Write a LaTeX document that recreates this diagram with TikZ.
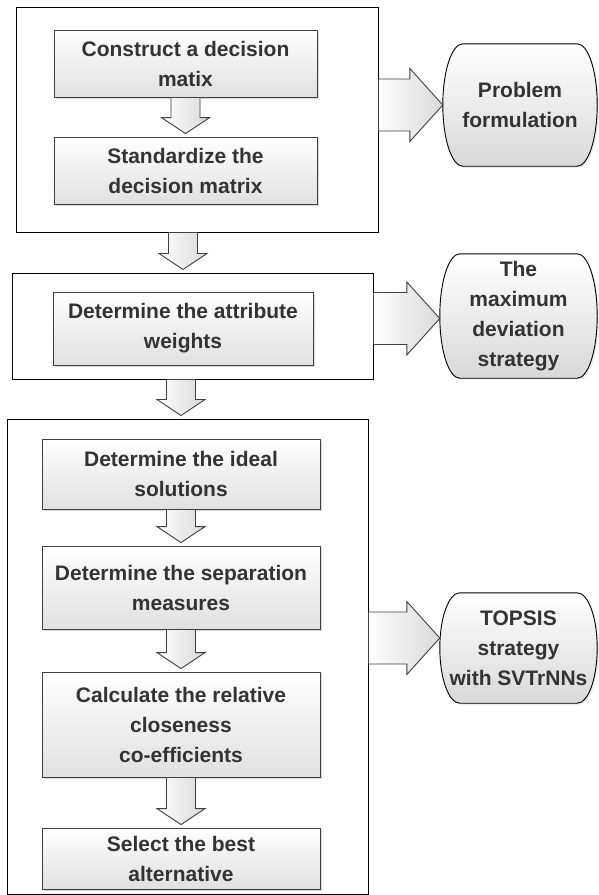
\documentclass[tikz,border=0pt]{standalone}
\usepackage{fontspec}
\setmainfont{Liberation Sans}
\usetikzlibrary{calc,shadows,backgrounds}

% fat down arrow: x taken from #1, from #2 to #3
\newcommand{\blkdown}[3]{%
  \path[blkarrow] let \p1=(#1.center |- #2.south), \p2=(#1.center |- #3.north) in
    (\x1-14.5pt,\y1) -- (\x1+14.5pt,\y1) -- (\x1+14.5pt,\y2+19pt) -- (\x1+24pt,\y2+19pt)
    -- (\x1,\y2+3pt) -- (\x1-24pt,\y2+19pt) -- (\x1-14.5pt,\y2+19pt) -- cycle;}
% fat right arrow: from group #1 to terminal #2, shifted by #3
\newcommand{\blkright}[3]{%
  \path[blkarrow] let \p1=([yshift=#3]#2.west), \p2=(#1.east) in
    (\x2,\y1+26pt) -- (\x1-33pt,\y1+26pt) -- (\x1-33pt,\y1+36.5pt) -- (\x1,\y1)
    -- (\x1-33pt,\y1-36.5pt) -- (\x1-33pt,\y1-26pt) -- (\x2,\y1-26pt) -- cycle;}
% terminator outline round a node
\newcommand{\termdraw}[1]{%
  \path[termline] let \p1=(#1.north west), \p2=(#1.south east), \n1={(\y1-\y2)/2} in
    (\x1+20pt,\y1) -- (\x2-20pt,\y1) arc[start angle=90, end angle=-90, x radius=20pt, y radius={\n1*1pt}]
    -- (\x1+20pt,\y2) arc[start angle=270, end angle=90, x radius=20pt, y radius={\n1*1pt}] -- cycle;}

\begin{document}
\begin{tikzpicture}[x=1pt,y=-1pt,
  font=\fontsize{21}{30}\selectfont\bfseries,
  every node/.style={text=black!80, align=center},
  grp/.style={draw=black, line width=1pt, fill=white, inner sep=0pt},
  procbox/.style={draw=black!75, line width=0.9pt, top color=white, bottom color=black!12, inner sep=0pt,
    drop shadow={shadow xshift=2pt, shadow yshift=-2pt, opacity=.3}},
  term/.style={inner sep=0pt},
  blkarrow/.style={draw=black!75, line width=0.9pt, left color=white, right color=black!15},
  termline/.style={draw=black, line width=0.9pt, top color=white, bottom color=black!15,
    drop shadow={shadow xshift=1.5pt, shadow yshift=-1.5pt, opacity=.2}}]

\useasboundingbox (0,0) rectangle (598,895);
\begin{scope}[on background layer]
  \fill[white] (0,0) rectangle (598,895);
\end{scope}

% groups
\node[grp, minimum width=362pt, minimum height=225pt] (g1) at (197,119.5) {};
\node[grp, minimum width=361pt, minimum height=106pt] (g2) at (192.5,326) {};
\node[grp, minimum width=361pt, minimum height=475pt] (g3) at (187.5,656.5) {};

% steps
\node[procbox, minimum width=263pt, minimum height=67pt] (c1) at (185.5,63.5) {Construct a decision\\matix};
\node[procbox, minimum width=263pt, minimum height=67pt] (c2) at (185.5,170.5) {Standardize the\\decision matrix};
\node[procbox, minimum width=260pt, minimum height=73pt] (c3) at (183,328.5) {Determine the attribute\\weights};
\node[procbox, minimum width=278pt, minimum height=70pt] (c4) at (181,474) {Determine the ideal\\solutions};
\node[procbox, minimum width=278pt, minimum height=83pt] (c5) at (181,587.5) {Determine the separation\\measures};
\node[procbox, minimum width=278pt, minimum height=105pt] (c6) at (181,724.5) {Calculate the relative\\closeness\\co-efficients};
\node[procbox, minimum width=278pt, minimum height=61pt] (c7) at (181,858.5) {Select the best\\alternative};

% strategies
\node[term, minimum width=154pt, minimum height=122pt] (t1) at (520,105) {Problem\\formulation};
\node[term, minimum width=157pt, minimum height=124pt] (t2) at (518.5,316) {The\\maximum\\deviation\\strategy};
\node[term, minimum width=157pt, minimum height=110pt] (t3) at (518.5,648) {TOPSIS\\strategy\\with SVTrNNs};
\begin{scope}[on background layer]
  \termdraw{t1}
  \termdraw{t2}
  \termdraw{t3}
\end{scope}

% arrows
\blkdown{c2}{c1}{c2}
\blkdown{c3}{g1}{g2}
\blkdown{c4}{g2}{g3}
\blkdown{c5}{c4}{c5}
\blkdown{c6}{c5}{c6}
\blkdown{c7}{c6}{c7}
\blkright{g1}{t1}{0pt}
\blkright{g2}{t2}{-2.5pt}
\blkright{g3}{t3}{10pt}
\end{tikzpicture}
\end{document}
